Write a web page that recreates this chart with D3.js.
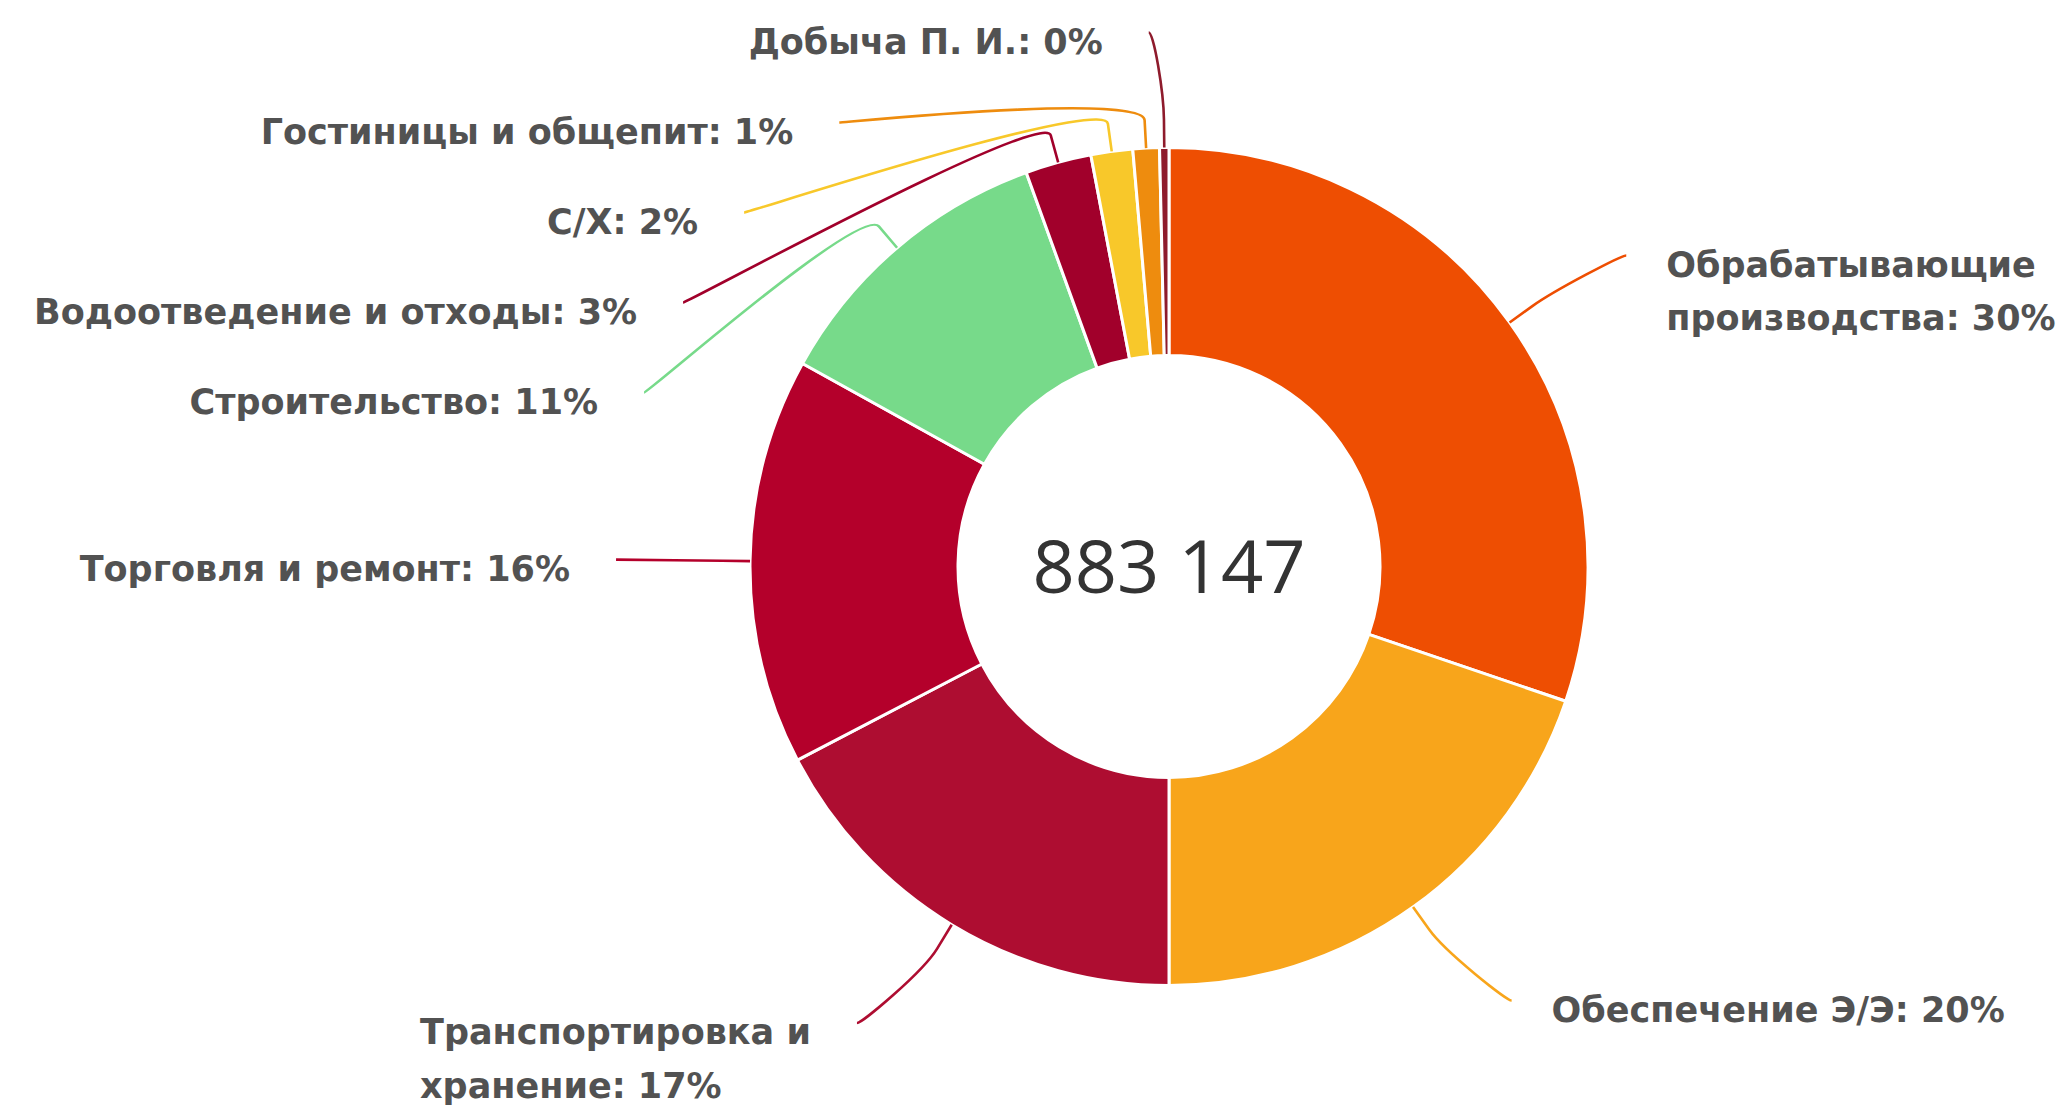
<!DOCTYPE html>
<html>
<head>
<meta charset="utf-8">
<script src="https://cdn.jsdelivr.net/npm/d3@7"></script>
<style>
  html, body { margin: 0; padding: 0; background: #ffffff; }
  svg { display: block; }
</style>
</head>
<body>
<svg id="chart" width="2065" height="1107"></svg>
<script>
// Sectors of the economy (line breaks mark where a label wraps)
const categories = [
  "Обрабатывающие\nпроизводства",
  "Обеспечение Э/Э",
  "Транспортировка и\nхранение",
  "Торговля и ремонт",
  "Строительство",
  "Водоотведение и отходы",
  "С/Х",
  "Гостиницы и общепит",
  "Добыча П. И."
];
const values = [266800, 174770, 153300, 138600, 100800, 22500, 14200, 9000, 3177];
const colors = ["#EE4E02", "#F8A51B", "#AE0D31", "#B4002B", "#77DA8A", "#A1002B", "#F8C82A", "#EE8C0E", "#8E1B2C"];

const W = 2065, H = 1107;
const cx = 1169, cy = 566.5;
const R = 419, r = 211;
const labelDistX = 134;     // horizontal reach of label anchors beyond the ring
const labelDistY = 115;     // vertical reach used for the natural label height
const breakOff = 28;        // connector elbow offset beyond the outer edge
const spacing = 90;         // min vertical gap between stacked labels
const lineGap = 53.5;       // line height of wrapped labels
const topBound = 32;
const labelFont = "bold 35px 'DejaVu Sans', Verdana, sans-serif";

const data = categories.map((c, i) => ({ name: c, value: values[i], color: colors[i] }));
const total = d3.sum(values);

const svg = d3.select("#chart");
const g = svg.append("g");

const pie = d3.pie().sort(null).value(d => d.value).startAngle(0).endAngle(2 * Math.PI);
const arcs = pie(data);
const arc = d3.arc().innerRadius(r).outerRadius(R);

g.append("g").attr("transform", `translate(${cx},${cy})`)
  .selectAll("path").data(arcs).join("path")
  .attr("d", arc)
  .attr("fill", d => d.data.color)
  .attr("stroke", "#ffffff")
  .attr("stroke-width", 3)
  .attr("stroke-linejoin", "round");

// Label layout: natural positions around the ring, then stacked per side
const LRX = R + labelDistX, LRY = R + labelDistY;
const labels = arcs.map(a => {
  const mid = (a.startAngle + a.endAngle) / 2;
  const pct = Math.round(a.data.value / total * 100);
  const lines = a.data.name.split("\n");
  lines[lines.length - 1] += ": " + pct + "%";
  return {
    a, mid, lines, color: a.data.color,
    left: mid > Math.PI,
    naturalY: cy - LRY * Math.cos(mid),
    naturalX: cx + LRX * Math.sin(mid)
  };
});

function distribute(list) {
  list.sort((p, q) => p.naturalY - q.naturalY);
  const need = l => spacing + (l.lines.length - 1) * lineGap;
  let prev = null;
  list.forEach(l => {
    l.y = Math.max(l.naturalY, topBound, prev ? prev.y + need(prev) : -Infinity);
    prev = l;
  });
  for (let i = list.length - 1; i >= 0; i--) {
    const l = list[i];
    const maxY = H - 27 - (l.lines.length - 1) * lineGap;
    l.y = Math.min(l.y, maxY, i < list.length - 1 ? list[i + 1].y - need(l) : Infinity);
  }
}
distribute(labels.filter(l => l.left));
distribute(labels.filter(l => !l.left));

labels.forEach(l => {
  const dy = l.y - cy;
  if (Math.abs(dy) > 0.95 * LRX) {
    l.x = l.naturalX - (l.left ? 14 : -14);
  } else {
    l.x = cx + (l.left ? -1 : 1) * Math.sqrt(LRX * LRX - dy * dy);
  }
});

// Connectors: soft curve from label to the elbow, then straight into the slice
const conn = g.append("g").attr("fill", "none").attr("stroke-width", 2.6);
labels.forEach(l => {
  const s = Math.sin(l.mid), c = Math.cos(l.mid);
  const tx = cx + R * s, ty = cy - R * c;
  const bx = cx + (R + breakOff) * s, by = cy - (R + breakOff) * c;
  const path = d3.path();
  path.moveTo(l.x, l.y);
  path.bezierCurveTo(l.x + (l.left ? 5 : -5), l.y, 2 * bx - tx, 2 * by - ty, bx, by);
  path.lineTo(tx, ty);
  conn.append("path").attr("d", path.toString()).attr("stroke", l.color);
});

// Label texts
const txt = g.append("g")
  .style("font", labelFont)
  .attr("fill", "#525252");
labels.forEach(l => {
  const t = txt.append("text").attr("y", l.y + 9);
  l.lines.forEach((line, i) => {
    t.append("tspan").attr("dy", i === 0 ? "0.35em" : lineGap).text(line);
  });
  const tsp = t.selectAll("tspan").nodes();
  const widest = d3.max(tsp, n => n.getComputedTextLength());
  const x0 = l.left ? l.x - 46 - widest : l.x + 40;
  t.selectAll("tspan").attr("x", x0);
});

// Total in the centre of the ring
const fmt = d3.formatLocale({ decimal: ",", thousands: " ", grouping: [3], currency: ["", ""] }).format(",");
g.append("text")
  .attr("x", cx).attr("y", cy)
  .attr("text-anchor", "middle")
  .attr("dy", "0.36em")
  .style("font", "400 74px 'Open Sans', sans-serif")
  .attr("fill", "#333333")
  .text(fmt(total));
</script>
</body>
</html>
